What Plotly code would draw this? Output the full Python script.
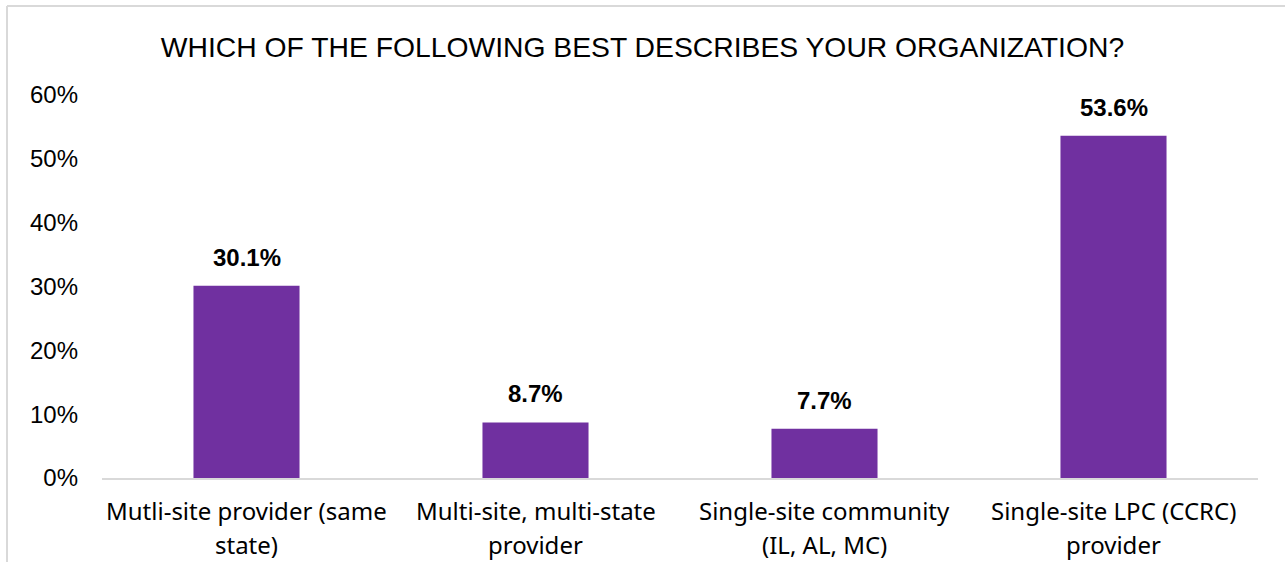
import plotly.graph_objects as go

# Survey responses
categories = [
    "Mutli-site provider (same state)",
    "Multi-site, multi-state provider",
    "Single-site community (IL, AL, MC)",
    "Single-site LPC (CCRC) provider",
]
label_line1 = [
    "Mutli-site provider (same",
    "Multi-site, multi-state",
    "Single-site community",
    "Single-site LPC (CCRC)",
]
label_line2 = ["state)", "provider", "(IL, AL, MC)", "provider"]
shares = [30.1, 8.7, 7.7, 53.6]
y_ticks = [0, 10, 20, 30, 40, 50, 60]
y_tick_text = [f"{t}%" for t in y_ticks]

BAR_COLOR = "#7030A0"
TEXT_COLOR = "#000000"
CAT_FONT = "Noto Sans, Inter, sans-serif"
NUM_FONT = "Liberation Sans, Arial, sans-serif"

fig = go.Figure(
    go.Bar(
        x=categories,
        y=shares,
        marker=dict(color=BAR_COLOR, line=dict(width=0)),
        hoverinfo="skip",
    )
)

annotations = []
# value labels above bars
for cat, v in zip(categories, shares):
    annotations.append(dict(
        x=cat, y=v, xref="x", yref="y", text=f"<b>{v:.1f}%</b>",
        showarrow=False, yanchor="bottom", yshift=13,
        font=dict(family=NUM_FONT, size=24, color=TEXT_COLOR),
    ))
# two-line category labels under the axis
for cat, l1, l2 in zip(categories, label_line1, label_line2):
    annotations.append(dict(
        x=cat, y=0, xref="x", yref="y", text=l1, showarrow=False,
        yanchor="middle", yshift=-32,
        font=dict(family=CAT_FONT, size=24, color=TEXT_COLOR),
    ))
    annotations.append(dict(
        x=cat, y=0, xref="x", yref="y", text=l2, showarrow=False,
        yanchor="middle", yshift=-66,
        font=dict(family=CAT_FONT, size=24, color=TEXT_COLOR),
    ))

fig.update_layout(
    width=1285,
    height=562,
    margin=dict(l=102, r=27, t=95, b=84),
    paper_bgcolor="white",
    plot_bgcolor="white",
    bargap=0.633,
    showlegend=False,
    title=dict(
        text="WHICH OF THE FOLLOWING BEST DESCRIBES YOUR ORGANIZATION?",
        x=0.5, xanchor="center", y=1 - 47 / 562, yanchor="middle",
        font=dict(family=NUM_FONT, size=28.3, color=TEXT_COLOR),
    ),
    xaxis=dict(
        showticklabels=False,
        showline=True, linecolor="#d9d9d9", linewidth=1.5,
        showgrid=False, ticks="", zeroline=False,
    ),
    yaxis=dict(
        range=[0, 60],
        tickvals=y_ticks,
        ticktext=y_tick_text,
        showgrid=False, zeroline=False, showline=False, ticks="",
        ticklabelstandoff=23,
        tickfont=dict(family=NUM_FONT, size=24, color=TEXT_COLOR),
    ),
    annotations=annotations,
    shapes=[
        # chart frame: top and left edges
        dict(type="line", xref="paper", yref="paper",
             x0=(7 - 102) / 1156, x1=(1285 - 102) / 1156,
             y0=1 + 89 / 383, y1=1 + 89 / 383,
             line=dict(color="#d9d9d9", width=2)),
        dict(type="line", xref="paper", yref="paper",
             x0=(7 - 102) / 1156, x1=(7 - 102) / 1156,
             y0=1 + 89 / 383, y1=-90 / 383,
             line=dict(color="#d9d9d9", width=2)),
    ],
)

fig.write_html("out.html")
